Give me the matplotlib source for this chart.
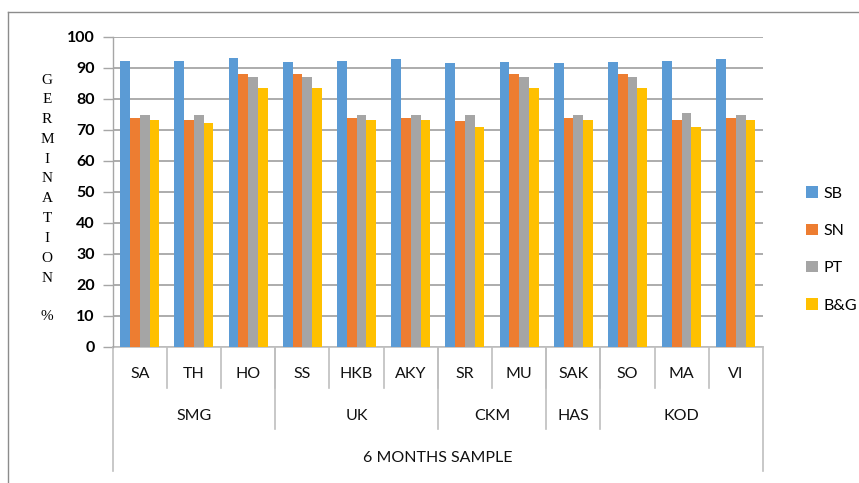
import matplotlib
matplotlib.use("Agg")
import matplotlib.pyplot as plt
from matplotlib.lines import Line2D
from matplotlib.patches import Patch
import numpy as np

# Germination (%) of 6-month-old samples by seed treatment
samples = ["SA", "TH", "HO", "SS", "HKB", "AKY", "SR", "MU", "SAK", "SO", "MA", "VI"]
districts = ["SMG", "UK", "CKM", "HAS", "KOD"]
district_sizes = [3, 3, 2, 1, 3]
series_names = ["SB", "SN", "PT", "B&G"]

sb = [92.3, 92.3, 93.0, 91.9, 92.3, 92.7, 91.6, 91.9, 91.6, 91.9, 92.3, 92.7]
sn = [73.7, 73.1, 88.0, 88.0, 73.7, 73.7, 72.7, 88.0, 73.7, 88.0, 73.1, 73.7]
pt = [74.9, 74.9, 87.0, 87.0, 74.9, 74.9, 74.9, 87.0, 74.9, 87.0, 75.3, 74.9]
bg = [73.1, 72.0, 83.3, 83.3, 73.1, 73.1, 71.0, 83.3, 73.1, 83.3, 71.0, 73.1]

y_ticks = [0, 10, 20, 30, 40, 50, 60, 70, 80, 90, 100]
y_label = "GERMINATION"
x_title = "6 MONTHS SAMPLE"

colors = ["#5B9BD5", "#ED7D31", "#A5A5A5", "#FFC000"]
font = "Lato"
W, H = 859, 483

fig = plt.figure(figsize=(W / 100, H / 100), dpi=100)
ax = fig.add_axes([112.7 / W, 1 - 346.7 / H, (763 - 112.7) / W, (346.7 - 36.7) / H])

x = np.arange(len(samples))
width = 0.18
for i, (vals, c) in enumerate(zip([sb, sn, pt, bg], colors)):
    ax.bar(x + (i - 1.5) * width, vals, width, color=c, zorder=3, label=series_names[i])

ax.set_xlim(-0.5, len(samples) - 0.5)
ax.set_ylim(0, 100)
ax.set_yticks(y_ticks)
ax.set_yticklabels([str(t) for t in y_ticks], fontsize=11.5, fontweight="bold", family=font)
ax.tick_params(axis="y", length=7, width=1, color="#A6A6A6", pad=6)
ax.tick_params(axis="x", length=0, labelbottom=False)
ax.grid(axis="y", color="#A6A6A6", linewidth=1.3, zorder=0)
for s in ["top", "right", "bottom"]:
    ax.spines[s].set_visible(False)
ax.spines["left"].set_color("#A6A6A6")
ax.spines["left"].set_linewidth(1.0)

# multi-level category axis below the plot
trans = ax.get_xaxis_transform()
def fy(py):
    # pixel row -> axes fraction (y)
    return (346.7 - py) / (346.7 - 36.7)

line_kw = dict(transform=trans, color="#BFBFBF", linewidth=1.2, clip_on=False)
ax.add_line(Line2D([-0.5, 11.5], [0, 0], **line_kw))
for b in np.arange(0.5, 11, 1.0):
    ax.add_line(Line2D([b, b], [0, fy(388)], **line_kw))
edges = np.cumsum([0] + district_sizes) - 0.5
for b in edges[1:-1]:
    ax.add_line(Line2D([b, b], [0, fy(429)], **line_kw))
for b in [edges[0], edges[-1]]:
    ax.add_line(Line2D([b, b], [0, fy(471)], **line_kw))

txt_kw = dict(transform=trans, ha="center", va="center", fontsize=11.5, family=font, color="#111111")
for xi, s in zip(x, samples):
    ax.text(xi, fy(374), s, **txt_kw)
for d, lo, hi in zip(districts, edges[:-1], edges[1:]):
    ax.text((lo + hi) / 2, fy(416), d, **txt_kw)
ax.text(5.5, fy(458), x_title, **txt_kw)

# stacked vertical y-axis title
for k, ch in enumerate(y_label):
    fig.text(47 / W, 1 - (80 + 19.8 * k) / H, ch, ha="center", va="center",
             fontsize=11, family="Liberation Serif")
fig.text(47 / W, 1 - 316 / H, "%", ha="center", va="center", fontsize=11, family="Liberation Serif")

# legend
handles = [Patch(facecolor=c, edgecolor="none") for c in colors]
fig.legend(handles, series_names, loc="upper left", bbox_to_anchor=(800 / W, 1 - 180 / H),
           frameon=False, prop={"family": font, "size": 11.5}, handlelength=0.7, handleheight=0.7,
           handletextpad=0.35, labelspacing=1.45, borderaxespad=0)

# outer chart border
fig.add_artist(Line2D([8 / W, 8 / W], [0, 1 - 12 / H], transform=fig.transFigure, color="#8C8C8C", linewidth=1))
fig.add_artist(Line2D([8 / W, 1], [1 - 12 / H, 1 - 12 / H], transform=fig.transFigure, color="#8C8C8C", linewidth=1))

fig.savefig("out.png", dpi=100)
